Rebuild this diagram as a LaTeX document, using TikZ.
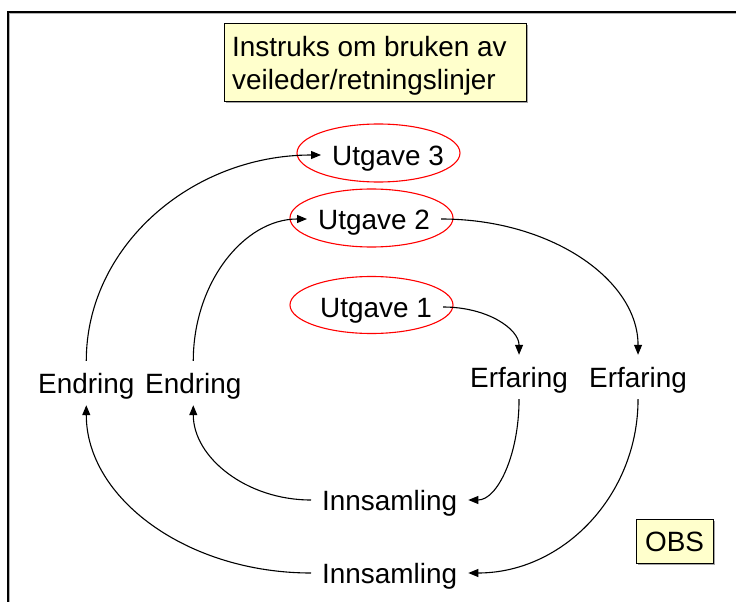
\documentclass[tikz,border=0pt]{standalone}
\usepackage{fontspec}
\setmainfont{Liberation Sans}
\usetikzlibrary{arrows.meta,shapes.geometric,shadows}
\definecolor{boxyellow}{HTML}{FFFFCC}
\begin{document}
\begin{tikzpicture}[x=1pt,y=-1pt,
  every node/.style={font=\fontsize{27.9}{33}\selectfont},
  lbl/.style={inner xsep=11pt, inner ysep=12pt, text height=20pt, text depth=0pt, anchor=base west},
  tline/.style={inner sep=0pt, anchor=base west},
  ybox/.style={draw=black, line width=0.9pt, fill=boxyellow, general shadow={fill=gray!70, shadow xshift=2pt, shadow yshift=-2pt}},
  redell/.style={ellipse, draw=red, line width=1.1pt, inner sep=0pt},
  conn/.style={line width=1.1pt, -{Triangle[length=10pt,width=8pt]}},
  frame/.style={line width=1.6pt, black}
]
\useasboundingbox (0,0) rectangle (737,602);
% frame
\draw[line width=1.2pt, gray!60] (9.5,13.5) -- (736,13.5);
\draw[line width=1.2pt, gray!60] (9.5,13.5) -- (9.5,602);
\draw[frame] (736,12) -- (8,12) -- (8,602);

% title box
\node[ybox, minimum width=302pt, minimum height=78pt, inner sep=0pt] (title) at (375,62) {};
\node[tline] (title1) at (232,57) {Instruks om bruken av};
\node[tline] (title2) at (232,90) {veileder/retningslinjer};

% ellipses
\node[redell, minimum width=163pt, minimum height=58pt] (e3) at (378.5,153) {};
\node[redell, minimum width=163pt, minimum height=58pt] (e2) at (371.5,218) {};
\node[redell, minimum width=163pt, minimum height=57pt] (e1) at (371.5,305) {};

% labels
\node[lbl] (u3) at (321,165) {Utgave 3};
\node[lbl] (u2) at (307,229) {Utgave 2};
\node[lbl] (u1) at (309,317) {Utgave 1};
\node[lbl] (erf1) at (459,387) {Erfaring};
\node[lbl] (erf2) at (578,387) {Erfaring};
\node[lbl] (endL) at (27,393) {Endring};
\node[lbl] (endR) at (134,393) {Endring};
\node[lbl] (inn1) at (311,510) {Innsamling};
\node[lbl] (inn2) at (311,583) {Innsamling};

% OBS box
\node[ybox, minimum width=77pt, minimum height=44pt, inner sep=0pt, text height=20pt, text depth=0pt] (obs) at (674.5,541) {OBS};

% connectors
\draw[conn] (endL.north) .. controls +(0,-114) and +(-130,0) .. (u3.west);
\draw[conn] (endR.north) .. controls +(0,-78) and +(-63,0) .. (u2.west);
\draw[conn] (u2.east) .. controls +(110,0) and +(0,-75) .. (erf2.north);
\draw[conn] (u1.east) .. controls +(44,0) and +(0,-26) .. (erf1.north);
\draw[conn] (erf1.south) .. controls +(0,56) and +(29,0) .. (inn1.east);
\draw[conn] (erf2.south) .. controls +(0,96) and +(95,0) .. (inn2.east);
\draw[conn] (inn1.west) .. controls +(-65,0) and +(0,52) .. (endR.south);
\draw[conn] (inn2.west) .. controls +(-124,0) and +(0,93) .. (endL.south);
\end{tikzpicture}
\end{document}
